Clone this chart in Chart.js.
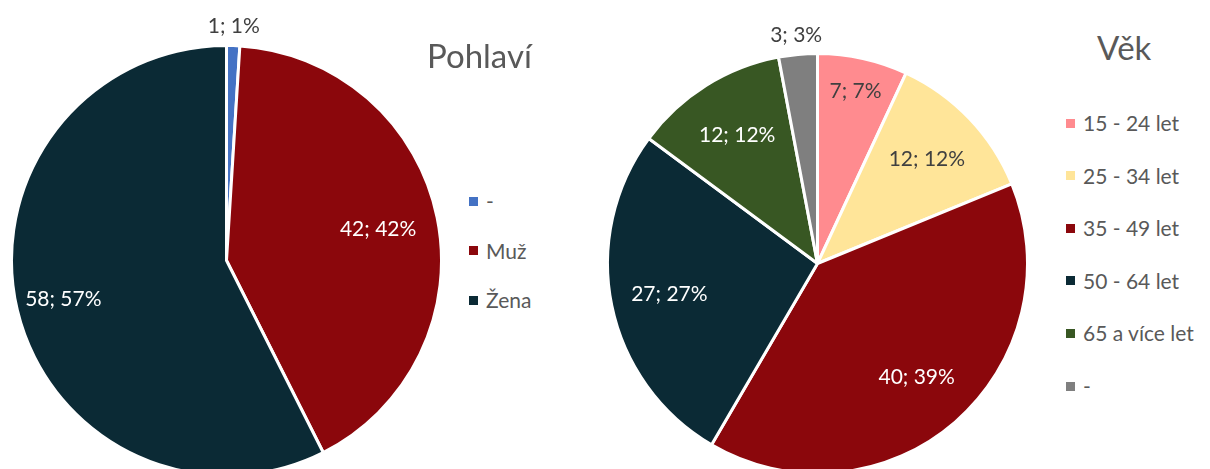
<!DOCTYPE html>
<html lang="cs">
<head>
<meta charset="UTF-8">
<title>Pohlaví a věk</title>
<script src="https://cdn.jsdelivr.net/npm/chart.js"></script>
<style>
    html, body {
        margin: 0;
        padding: 0;
        width: 1210px;
        height: 469px;
        overflow: hidden;
        background: #fff;
        font-family: Lato, "Open Sans", sans-serif;
        color: #595959;
    }
    .box { position: absolute; }
    #pie1_box { left: 0; top: 0; width: 443px; height: 477px; }
    #pie2_box { left: 596px; top: 0; width: 433px; height: 475px; }
    .title {
        position: absolute;
        font-size: 33px;
        line-height: 33px;
        white-space: nowrap;
    }
    .legend-item {
        position: absolute;
        height: 20px;
        display: flex;
        align-items: center;
        font-size: 21px;
        line-height: 20px;
        white-space: nowrap;
    }
    .legend-item i {
        display: inline-block;
        width: 9px;
        height: 9px;
        margin-right: 8px;
    }
</style>
</head>
<body>
<div class="box" id="pie1_box"><canvas id="pie1"></canvas></div>
<div class="box" id="pie2_box"><canvas id="pie2"></canvas></div>
<div class="title" style="left:427px;top:39px">Pohlaví</div>
<div class="title" style="left:1097px;top:31px">Věk</div>
<div id="legend1"></div>
<div id="legend2"></div>

<script>
// data
const sexLabels = ['-', 'Muž', 'Žena']
const sexValues = [1, 42, 58]
const sexPct = [1, 42, 57]
const sexColors = ['#4472C4', '#8B070C', '#0B2A35']

const ageLabels = ['15 - 24 let', '25 - 34 let', '35 - 49 let', '50 - 64 let', '65 a více let', '-']
const ageValues = [7, 12, 40, 27, 12, 3]
const agePct = [7, 12, 39, 27, 12, 3]
const ageColors = ['#FF8B8F', '#FFE599', '#8B070C', '#0B2A35', '#385723', '#7F7F7F']

const lightColors = ['#FF8B8F', '#FFE599']

// "value; pct%" labels like excel's best fit
const sliceLabels = {
    id: 'sliceLabels',
    afterDatasetsDraw(chart, args, opts) {
        const ctx = chart.ctx
        const meta = chart.getDatasetMeta(0)
        const values = chart.data.datasets[0].data
        const colors = chart.data.datasets[0].backgroundColor
        const total = values.reduce((a, b) => a + b, 0)
        ctx.save()
        ctx.font = '21px Lato'
        ctx.textAlign = 'center'
        ctx.textBaseline = 'middle'
        meta.data.forEach((arc, i) => {
            const p = arc.getProps(['x', 'y', 'startAngle', 'endAngle', 'outerRadius'])
            const mid = (p.startAngle + p.endAngle) / 2
            const f = values[i] / total
            let dist, color
            if (f < 0.05) {
                dist = p.outerRadius + 19
                color = '#404040'
            } else {
                dist = p.outerRadius * (f < 0.1 ? 0.84 : f > 0.5 ? 0.78 : 0.72)
                color = lightColors.includes(colors[i]) ? '#404040' : '#ffffff'
            }
            ctx.fillStyle = color
            ctx.fillText(values[i] + '; ' + opts.pct[i] + '%',
                p.x + Math.cos(mid) * dist, p.y + Math.sin(mid) * dist)
        })
        ctx.restore()
    }
}

function makePie(id, labels, values, colors, pct, pad) {
    return new Chart(document.getElementById(id), {
        type: 'pie',
        data: {
            labels: labels,
            datasets: [{
                data: values,
                backgroundColor: colors,
                borderColor: '#ffffff',
                borderWidth: 3
            }]
        },
        options: {
            responsive: true,
            maintainAspectRatio: false,
            animation: false,
            layout: { padding: pad },
            plugins: {
                legend: { display: false },
                tooltip: { enabled: false },
                sliceLabels: { pct: pct }
            }
        },
        plugins: [sliceLabels]
    })
}

function makeLegend(id, labels, colors, left, top, step) {
    document.getElementById(id).innerHTML = labels.map((l, i) => `
        <div class="legend-item" style="left:${left}px;top:${top + i * step}px">
            <i style="background:${colors[i]}"></i><span>${l}</span>
        </div>`).join('')
}

makePie('pie1', sexLabels, sexValues, sexColors, sexPct, { left: 10, top: 44, right: 0, bottom: 0 })
makePie('pie2', ageLabels, ageValues, ageColors, agePct, { left: 10, top: 52, right: 0, bottom: 0 })
makeLegend('legend1', sexLabels, sexColors, 469, 191, 49.5)
makeLegend('legend2', ageLabels, ageColors, 1066, 113, 52.6)
</script>
</body>
</html>
